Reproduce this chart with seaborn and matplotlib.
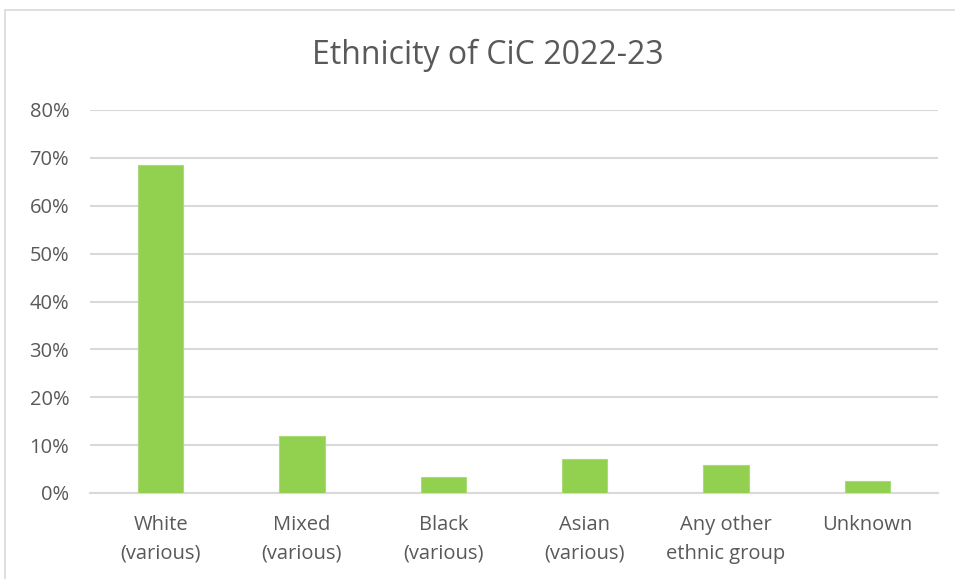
import matplotlib
matplotlib.use("Agg")
import matplotlib.pyplot as plt
from matplotlib.patches import Rectangle
from matplotlib.ticker import PercentFormatter
import seaborn as sns
import pandas as pd

categories = ["White\n(various)", "Mixed\n(various)", "Black\n(various)",
              "Asian\n(various)", "Any other\nethnic group", "Unknown"]
shares = [68.5, 12.0, 3.4, 7.2, 5.9, 2.5]
y_ticks = [0, 10, 20, 30, 40, 50, 60, 70, 80]
title = "Ethnicity of CiC 2022-23"

df = pd.DataFrame({"group": categories, "share": shares})

sns.set_theme(style="white")
plt.rcParams["font.family"] = ["Open Sans", "DejaVu Sans"]

W, H = 955, 579
fig = plt.figure(figsize=(W / 100, H / 100), dpi=100)
ax = fig.add_axes([90 / W, (H - 493) / H, (938 - 90) / W, (493 - 110) / H])

sns.barplot(data=df, x="group", y="share", color="#92D050", saturation=1,
            width=0.32, ax=ax, edgecolor="#A9DC79", linewidth=0.8, zorder=3)

ax.set_ylim(0, 80)
ax.set_xlim(-0.5, len(categories) - 0.5)
ax.set_yticks(y_ticks)
ax.yaxis.set_major_formatter(PercentFormatter(decimals=0))
ax.grid(axis="y", color="#D9D9D9", linewidth=1.5, zorder=0)
ax.set_axisbelow(True)
for s in ["top", "right", "left"]:
    ax.spines[s].set_visible(False)
ax.spines["bottom"].set_color("#D9D9D9")
ax.spines["bottom"].set_linewidth(1.5)
ax.tick_params(axis="both", length=0, labelsize=14.5, colors="#595959")
ax.tick_params(axis="y", pad=15)
ax.tick_params(axis="x", pad=16)
for lbl in ax.get_xticklabels():
    lbl.set_linespacing(1.58)
ax.set_xlabel("")
ax.set_ylabel("")

fig.text(488 / W, 1 - 55 / H, title, ha="center", va="center",
         fontsize=23, color="#595959")

# outer chart frame
fig.patches.append(Rectangle((5 / W, -0.05), 1.1, 1 - 10 / H + 0.05,
                             transform=fig.transFigure, fill=False,
                             edgecolor="#D9D9D9", linewidth=1.2))

fig.savefig("out.png", dpi=100, facecolor="white")
